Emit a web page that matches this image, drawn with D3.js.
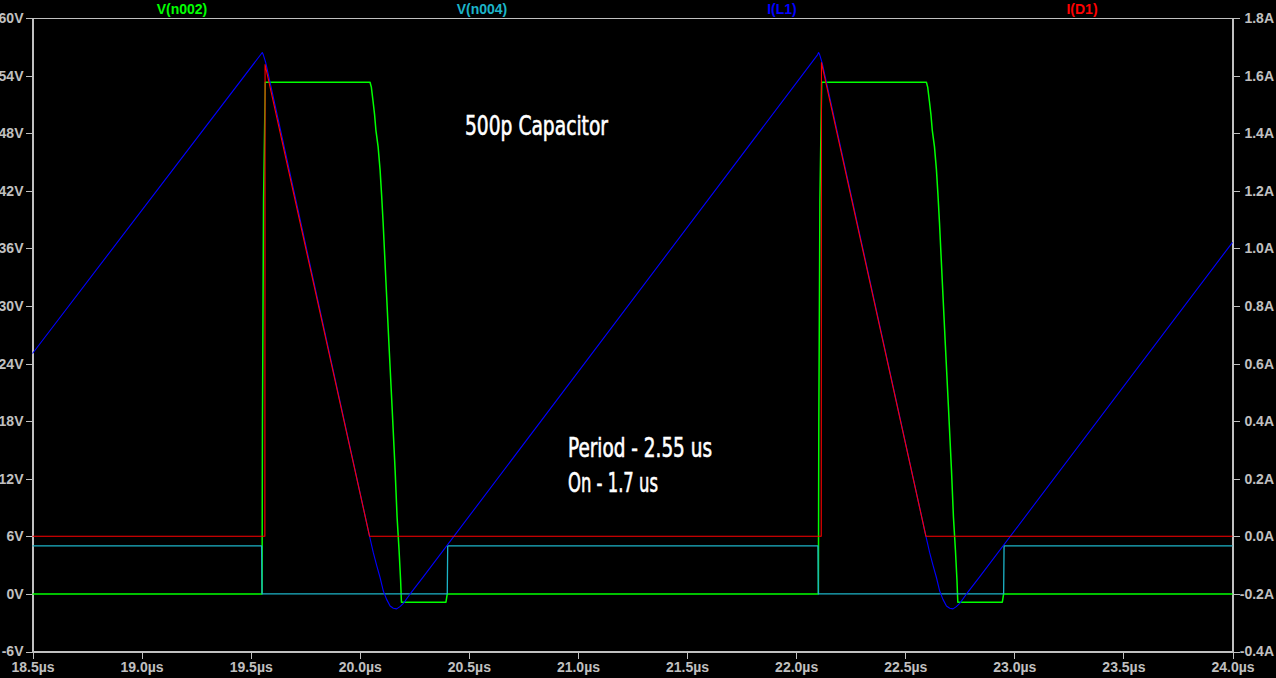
<!DOCTYPE html>
<html>
  <head>
    <script src="https://d3js.org/d3.v7.min.js"></script>
  </head>
  <style>
    body { margin: 0; background: #000; }
    svg { display: block; background: #000; }
    .axis path, .axis line { stroke: #c0c0c0; shape-rendering: crispEdges; }
    .axis text { fill: #c0c0c0; font-family: "Liberation Sans", Arial, sans-serif; font-weight: bold; font-size: 14px; }
    .trace { fill: none; stroke-linejoin: round; }
    .note { fill: #fff; stroke: #fff; stroke-width: 0.6; font-family: "Liberation Sans Narrow", "DejaVu Sans Condensed", sans-serif; font-size: 27px; }
  </style>
  <body>
    <svg></svg>
    <script>
// axis ticks
const timeTicks = [18.5, 19.0, 19.5, 20.0, 20.5, 21.0, 21.5, 22.0, 22.5, 23.0, 23.5, 24.0];
const voltTicks = [-6, 0, 6, 12, 18, 24, 30, 36, 42, 48, 54, 60];
const ampTicks = [-0.4, -0.2, 0.0, 0.2, 0.4, 0.6, 0.8, 1.0, 1.2, 1.4, 1.6, 1.8];

const traceNames = ["V(n002)", "V(n004)", "I(L1)", "I(D1)"];
const traceColors = ["#00ff00", "#1cb4c8", "#0000ff", "#ff0000"];

// V(n002) - switch node, volts
const n002Time = [18.5, 19.552, 19.554, 19.559, 19.567, 20.047, 20.053, 20.061, 20.068, 20.074, 20.084, 20.093, 20.100, 20.107, 20.120, 20.134, 20.148, 20.162, 20.171, 20.180, 20.187, 20.191, 20.395, 20.401,
                  22.102, 22.104, 22.109, 22.117, 22.597, 22.603, 22.611, 22.618, 22.624, 22.634, 22.643, 22.650, 22.657, 22.670, 22.684, 22.698, 22.712, 22.721, 22.730, 22.737, 22.741, 22.945, 22.951, 24.0];
const n002Volts = [0, 0, 18, 41, 53.3, 53.3, 52.8, 51.3, 49.9, 48.3, 46.6, 44.2, 41.6, 38.7, 32.5, 25.9, 19.5, 12.9, 8.0, 4.6, 1.5, -0.86, -0.86, 0,
                   0, 18, 41, 53.3, 53.3, 52.8, 51.3, 49.9, 48.3, 46.6, 44.2, 41.6, 38.7, 32.5, 25.9, 19.5, 12.9, 8.0, 4.6, 1.5, -0.86, -0.86, 0, 0];

// V(n004) - gate drive, volts
const n004Time = [18.5, 19.550, 19.552, 20.401, 20.403, 22.100, 22.102, 22.951, 22.953, 24.0];
const n004Volts = [5, 5, 0, 0, 5, 5, 0, 0, 5, 5];

// I(L1) - inductor current, amps
const l1Time = [18.5, 19.548, 19.553, 19.558, 19.569, 20.045, 20.062, 20.078, 20.093, 20.108, 20.123, 20.139, 20.154, 20.169, 20.184, 20.200, 20.230, 20.291,
                22.098, 22.103, 22.108, 22.119, 22.595, 22.612, 22.628, 22.643, 22.658, 22.673, 22.689, 22.704, 22.719, 22.734, 22.750, 22.780, 22.841, 24.0];
const l1Amps = [0.635, 1.675, 1.680, 1.672, 1.645, 0, -0.057, -0.103, -0.143, -0.190, -0.219, -0.242, -0.250, -0.252, -0.244, -0.233, -0.201, -0.141,
                1.672, 1.680, 1.672, 1.645, 0, -0.057, -0.103, -0.143, -0.190, -0.219, -0.242, -0.250, -0.252, -0.244, -0.233, -0.201, -0.141, 1.021];

// I(D1) - diode current, amps
const d1Time = [18.5, 19.565, 19.566, 20.045, 22.115, 22.116, 22.595, 24.0];
const d1Amps = [0, 0, 1.638, 0, 0, 1.645, 0, 0];

const notes = ["500p Capacitor", "Period - 2.55 us", "On - 1.7 us"];

const W = 1276, H = 678;
const margin = { top: 18, right: 43.5, bottom: 26.5, left: 32.5 };

const svg = d3.select("svg").attr("width", W).attr("height", H);

const x = d3.scaleLinear().domain([18.5, 24.0]).range([margin.left, W - margin.right]);
const yV = d3.scaleLinear().domain([-6, 60]).range([H - margin.bottom, margin.top]);
const yA = d3.scaleLinear().domain([-0.4, 1.8]).range([H - margin.bottom, margin.top]);

// frame
svg.append("rect")
  .attr("x", margin.left).attr("y", margin.top)
  .attr("width", x.range()[1] - margin.left)
  .attr("height", yV.range()[0] - margin.top)
  .attr("fill", "none").attr("stroke", "#c0c0c0")
  .style("shape-rendering", "crispEdges");

svg.append("g").attr("class", "axis")
  .attr("transform", `translate(0,${yV.range()[0]})`)
  .call(d3.axisBottom(x).tickValues(timeTicks).tickSize(7).tickPadding(4).tickFormat(d => d.toFixed(1) + "µs"));

svg.append("g").attr("class", "axis")
  .attr("transform", `translate(${margin.left},0)`)
  .call(d3.axisLeft(yV).tickValues(voltTicks).tickSize(7).tickPadding(2).tickFormat(d => d + "V"));

const right = svg.append("g").attr("class", "axis")
  .attr("transform", `translate(${x.range()[1]},0)`)
  .call(d3.axisRight(yA).tickValues(ampTicks).tickSize(7).tickFormat(d => d.toFixed(1) + "A"));
right.selectAll("text").attr("text-anchor", "end").attr("x", W - 2 - x.range()[1]);

// trace titles on top
svg.selectAll(".title")
  .data(traceNames)
  .enter()
  .append("text")
  .attr("class", "title")
  .attr("x", (d, i) => 182 + i * 300)
  .attr("y", 13.5)
  .attr("text-anchor", "middle")
  .attr("fill", (d, i) => traceColors[i])
  .style("font-family", "Liberation Sans, Arial, sans-serif")
  .style("font-weight", "bold")
  .style("font-size", "14px")
  .text(d => d);

const plot = svg.append("g");

function drawTrace(times, vals, yScale, color, width) {
  const pts = times.map((t, i) => [t, vals[i]]);
  const line = d3.line().x(d => x(d[0])).y(d => yScale(d[1]));
  plot.append("path")
    .attr("class", "trace")
    .attr("d", line(pts))
    .attr("stroke", color)
    .attr("stroke-width", width);
}

drawTrace(n002Time, n002Volts, yV, traceColors[0], 1.5);
drawTrace(n004Time, n004Volts, yV, traceColors[1], 1.3);
drawTrace(l1Time, l1Amps, yA, traceColors[2], 1.1);
drawTrace(d1Time, d1Amps, yA, traceColors[3], 1.1);

// annotations
const notePos = [[465, 135, 143], [568, 456.5, 144], [568, 491.5, 90]];
svg.selectAll(".note")
  .data(notes)
  .enter()
  .append("text")
  .attr("class", "note")
  .attr("x", (d, i) => notePos[i][0])
  .attr("y", (d, i) => notePos[i][1])
  .attr("textLength", (d, i) => notePos[i][2])
  .attr("lengthAdjust", "spacingAndGlyphs")
  .text(d => d);
    </script>
  </body>
</html>
